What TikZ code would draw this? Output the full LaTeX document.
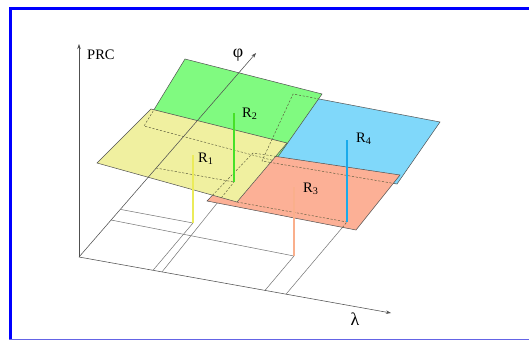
\documentclass[tikz,border=0pt]{standalone}
\usepackage{fontspec}
\setmainfont{Liberation Serif}
\usetikzlibrary{arrows.meta,calc}
\definecolor{frameblue}{RGB}{0,0,255}
\definecolor{framebot}{RGB}{100,100,230}
\definecolor{yelP}{RGB}{240,240,160}
\definecolor{grnP}{RGB}{128,250,128}
\definecolor{bluP}{RGB}{128,216,250}
\definecolor{oraP}{RGB}{252,176,150}
\definecolor{yelS}{RGB}{235,235,90}
\definecolor{grnS}{RGB}{70,225,40}
\definecolor{oraS}{RGB}{250,175,140}
\definecolor{bluS}{RGB}{25,170,235}
\definecolor{edge}{RGB}{80,80,80}
\definecolor{hid}{RGB}{90,90,60}
\tikzset{
  axis/.style={draw=edge, line width=0.55pt},
  floorline/.style={draw=edge!80, line width=0.5pt},
  plane/.style={draw=edge, line width=0.5pt},
  hidden/.style={draw=hid, line width=0.45pt, dash pattern=on 2.2pt off 1.6pt},
  stem/.style={line width=1.1pt},
  lab/.style={inner sep=0pt, anchor=base west, font=\fontsize{14.5}{16}\selectfont},
  greek/.style={inner sep=0pt, font=\fontsize{18}{20}\selectfont},
  tip/.style={-{Stealth[length=5pt,width=3.5pt]}}
}
\begin{document}
\begin{tikzpicture}[x=1pt,y=-1pt]
\useasboundingbox (0,0) rectangle (529,340);
\fill[white] (0,0) rectangle (529,340);
% frame
\fill[frameblue] (9,7) rectangle (529,10);
\fill[frameblue] (9,7) rectangle (12,340);
\fill[framebot] (9,338.5) rectangle (529,340);

% axis points
\coordinate (O) at (79,257);
\coordinate (Ptip) at (79,44);
\coordinate (Ltip) at (391,313);
\coordinate (Ftip) at (256,53);
% stem bases and tops
\coordinate (Yb) at (193,223);
\coordinate (Gb) at (234,182);
\coordinate (Ob) at (294,256);
\coordinate (Bb) at (347,222);
\coordinate (Yt) at (193,155);
\coordinate (Gt) at (234,113);
\coordinate (Ot) at (294,187);
\coordinate (Bt) at (347,140);
% feet on the phi axis
\coordinate (f1) at (121,209.5);
\coordinate (f2) at (111,220);
\coordinate (f3) at (156,168);
% feet on the lambda axis
\coordinate (l1) at (153,270.3);
\coordinate (l2) at (162,271.9);
\coordinate (l3) at (265,290.4);
\coordinate (l4) at (286,294.2);
% planes
\coordinate (g1) at (185,59);  \coordinate (g2) at (322,94);
\coordinate (g3) at (275,161); \coordinate (g4) at (144,126);
\coordinate (b1) at (293,94);  \coordinate (b2) at (440,122);
\coordinate (b3) at (397,184); \coordinate (b4) at (262,161);
\coordinate (o1) at (253,153); \coordinate (o2) at (400,175);
\coordinate (o3) at (356,230); \coordinate (o4) at (207,201);
\coordinate (y1) at (151,109); \coordinate (y2) at (287,143);
\coordinate (y3) at (237,202); \coordinate (y4) at (97,163);

% axes PRC and lambda
\draw[axis,tip] (O) -- (Ptip);
\draw[axis,tip] (O) -- (Ltip);
% floor lines
\draw[floorline] (f1) -- (Yb) (l1) -- (Yb);
\draw[floorline] (f2) -- (Ob) (l3) -- (Ob);
\draw[floorline] (l2) -- (Gb) (f3) -- (Gb);
\draw[floorline] (l4) -- (Bb);

% blue plane
\fill[bluP] (b1) -- (b2) -- (b3) -- (b4) -- cycle;
\draw[plane] (b1) -- (b2) -- (b3) -- (b4) -- cycle;
% green plane
\fill[grnP] (g1) -- (g2) -- (g3) -- (g4) -- cycle;
\draw[plane] (g1) -- (g2) -- (g3) -- (g4) -- cycle;
\begin{scope}
  \clip (g1) -- (g2) -- (g3) -- (g4) -- cycle;
  \draw[hidden] (b4) -- (b1) -- (b2);
\end{scope}
% orange plane
\fill[oraP] (o1) -- (o2) -- (o3) -- (o4) -- cycle;
\draw[plane] (o1) -- (o2) -- (o3) -- (o4) -- cycle;
\begin{scope}
  \clip (o1) -- (o2) -- (o3) -- (o4) -- cycle;
  \draw[hidden] (b4) -- (b3);
  \draw[hidden] (y3) -- (Bb) (l4) -- (Bb);
\end{scope}
% yellow plane
\fill[yelP] (y1) -- (y2) -- (y3) -- (y4) -- cycle;
\draw[plane] (y1) -- (y2) -- (y3) -- (y4) -- cycle;
\begin{scope}
  \clip (y1) -- (y2) -- (y3) -- (y4) -- cycle;
  \draw[hidden] (g1) -- (g4) -- (g3);
  \draw[hidden] (b1) -- (b4) -- (b3);
  \draw[hidden] (o2) -- (o1) -- (o4);
  \draw[hidden] (l2) -- (Gb) (f3) -- (Gb);
\end{scope}

% phi axis over the planes
\draw[axis,tip] (O) -- (Ftip);

% stems
\draw[stem,yelS] (Yb) -- (Yt);
\draw[stem,grnS] (Gb) -- (Gt);
\draw[stem,oraS] (Ob) -- (Ot);
\draw[stem,bluS] (Bb) -- (Bt);

% labels
\node[lab] (r1) at (198,162) {R\textsubscript{1}};
\node[lab] (r2) at (242,117) {R\textsubscript{2}};
\node[lab] (r3) at (303,192) {R\textsubscript{3}};
\node[lab] (r4) at (356,142) {R\textsubscript{4}};
\node[lab] (prc) at (87,59) {PRC};
\node[greek] (phi) at (238,55) {φ};
\node[greek] (lam) at (355,319) {λ};
\end{tikzpicture}
\end{document}
